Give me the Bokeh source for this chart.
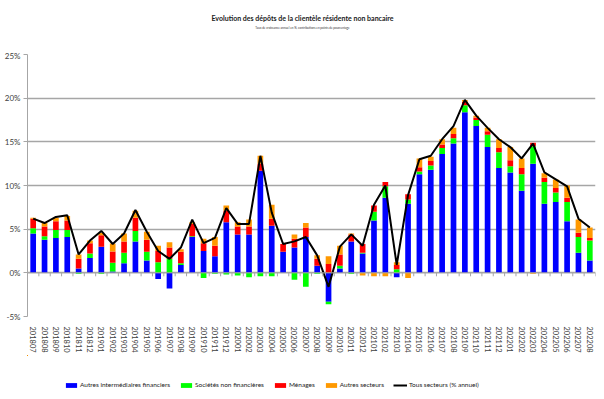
from bokeh.plotting import figure
from bokeh.layouts import column
from bokeh.models import (Range1d, FixedTicker, PrintfTickFormatter, ColumnDataSource,
                          Span, Label, Legend, LegendItem)
from bokeh.embed import file_html
from bokeh.resources import INLINE
import numpy as np

categories = ["201807", "201808", "201809", "201810", "201811", "201812",
              "201901", "201902", "201903", "201904", "201905", "201906",
              "201907", "201908", "201909", "201910", "201911", "201912",
              "202001", "202002", "202003", "202004", "202005", "202006",
              "202007", "202008", "202009", "202010", "202011", "202012",
              "202101", "202102", "202103", "202104", "202105", "202106",
              "202107", "202108", "202109", "202110", "202111", "202112",
              "202201", "202202", "202203", "202204", "202205", "202206",
              "202207", "202208"]

autres_intermediaires = [4.5, 3.8, 4.0, 4.1, 0.5, 1.7,
                         3.0, 0.15, 1.1, 3.6, 1.4, -0.7,
                         -1.8, 0.9, 4.1, 2.5, 1.9, 5.8,
                         4.4, 4.4, 11.7, 5.4, 2.4, 2.9,
                         4.1, 0.8, -3.3, 0.5, 3.6, 2.2,
                         6.0, 8.6, -0.5, 7.9, 11.3, 11.8,
                         13.6, 14.8, 18.4, 16.8, 14.4, 12.0,
                         11.5, 9.4, 12.5, 7.9, 8.1, 5.9,
                         2.3, 1.4]

societes_non_fin = [0.6, 0.4, 0.9, 0.8, -0.1, 0.5,
                    -0.1, 1.0, 1.2, 1.2, 1.0, 1.2,
                    1.6, 0.2, 0.1, -0.6, -0.1, -0.2,
                    -0.3, -0.5, -0.4, -0.4, 0.0, -0.8,
                    -1.6, -0.1, -0.3, 0.3, -0.1, 0.1,
                    1.0, 1.3, 0.4, 0.5, 0.3, 0.5,
                    0.7, 0.6, 0.8, 0.7, 1.4, 1.8,
                    0.7, 1.9, 2.0, 2.5, 1.1, 2.2,
                    1.8, 2.3]

menages = [1.1, 1.1, 1.0, 1.1, 1.1, 1.2,
           1.3, 1.3, 1.3, 1.5, 1.4, 1.3,
           1.3, 1.3, 1.4, 0.9, 1.2, 1.3,
           0.9, 0.9, 0.8, 0.8, 0.9, 1.0,
           1.1, 0.8, 1.0, 1.3, 0.8, 1.0,
           0.7, 0.5, 0.5, 0.6, 0.5, 0.5,
           0.4, 0.5, 0.4, 0.3, 0.4, 0.5,
           0.7, 0.7, 0.4, 0.5, 0.5, 0.5,
           0.5, 0.3]

autres_secteurs = [0.1, 0.4, 0.4, 0.5, 0.5, 0.3,
                   0.3, 0.9, 0.9, 0.8, 0.9, 0.6,
                   0.6, 0.3, 0.2, 0.5, 1.0, 0.6,
                   0.5, 0.8, 0.9, 1.6, 0.0, 0.5,
                   0.5, 0.4, 0.9, 1.0, 0.1, -0.3,
                   -0.4, -0.4, 0.3, -0.6, 1.0, 0.5,
                   0.6, 0.7, 0.2, 0.2, 0.4, 1.0,
                   1.5, 1.1, -0.1, 0.5, 1.0, 1.4,
                   1.5, 1.2]

tous_secteurs = [6.2, 5.7, 6.4, 6.6, 2.1, 3.7,
                 4.8, 3.3, 4.5, 7.2, 4.7, 2.5,
                 1.6, 2.9, 6.1, 3.4, 4.0, 7.4,
                 5.6, 5.6, 13.4, 6.9, 3.3, 3.6,
                 4.1, 2.0, -1.6, 3.0, 4.4, 3.1,
                 7.8, 10.0, 0.9, 8.9, 13.0, 13.4,
                 15.3, 16.8, 19.8, 18.0, 16.6, 15.3,
                 14.4, 13.1, 14.8, 11.5, 10.7, 9.9,
                 6.2, 5.2]

series_names = ["Autres intermédiaires financiers", "Sociétés non financières",
                "Ménages", "Autres secteurs"]
series_colors = ["#0000FF", "#00FF00", "#FF0000", "#FF9900"]
line_name = "Tous secteurs (% annuel)"
title_text = "Evolution des dépôts de la clientèle résidente non bancaire"
subtitle_text = "Taux de croissance annuel en %, contributions en points de pourcentage"
y_ticks = [-5, 0, 5, 10, 15, 20, 25]

FONT = "Lato"
W = 596


def blank_fig(h, xr=None, yr=None):
    f = figure(width=W, height=h, output_backend="svg", toolbar_location=None,
               x_range=xr if xr is not None else Range1d(0, 1),
               y_range=yr if yr is not None else Range1d(0, 1),
               x_axis_location=None, y_axis_location=None,
               min_border=0, min_border_left=0, min_border_right=0,
               min_border_top=0, min_border_bottom=0)
    f.outline_line_color = None
    f.xgrid.visible = False
    f.ygrid.visible = False
    f.background_fill_color = "white"
    f.border_fill_color = "white"
    return f


# ---- title block ----
TH = 50
pt = blank_fig(TH)
pt.add_layout(Label(x=275, y=TH - 17, x_units="screen", y_units="screen", text=title_text,
                    text_align="center", text_baseline="middle", text_font=FONT,
                    text_font_size="7px", text_font_style="bold", text_color="#1a1a1a"))
pt.add_layout(Label(x=275, y=TH - 27, x_units="screen", y_units="screen", text=subtitle_text,
                    text_align="center", text_baseline="middle", text_font=FONT,
                    text_font_size="3px", text_color="#333333"))

# ---- main chart ----
n = len(categories)
xc = np.arange(n) + 0.5

MH = 305
p = figure(width=W, height=MH, output_backend="svg", toolbar_location=None,
           x_range=Range1d(0, n), y_range=Range1d(-5, 25),
           min_border_left=27, min_border_right=1, min_border_top=4,
           min_border_bottom=39)
p.background_fill_color = "white"
p.border_fill_color = "white"
p.outline_line_color = None

pos_base = np.zeros(n)
neg_base = np.zeros(n)
bar_sources = []
for vals in [autres_intermediaires, societes_non_fin, menages, autres_secteurs]:
    v = np.array(vals, dtype=float)
    bottom = np.where(v >= 0, pos_base, neg_base)
    top = bottom + v
    pos_base = np.where(v >= 0, top, pos_base)
    neg_base = np.where(v < 0, top, neg_base)
    bar_sources.append(ColumnDataSource(dict(x=xc, bottom=bottom, top=top)))

for src, col in zip(bar_sources, series_colors):
    p.vbar(x="x", bottom="bottom", top="top", width=0.5, source=src,
           fill_color=col, line_color=None)

line_src = ColumnDataSource(dict(x=xc, y=tous_secteurs))
p.line("x", "y", source=line_src, line_color="black", line_width=2)

p.add_layout(Span(location=0, dimension="width", line_color="#A6A6A6", line_width=1))
edges = np.arange(n + 1)
p.segment(x0=edges, x1=edges, y0=np.zeros(n + 1), y1=np.full(n + 1, -0.4),
          line_color="#A6A6A6", line_width=1)

p.yaxis.ticker = FixedTicker(ticks=y_ticks)
p.yaxis.formatter = PrintfTickFormatter(format="%d%%")
p.yaxis.axis_line_color = "#A6A6A6"
p.yaxis.major_tick_line_color = "#A6A6A6"
p.yaxis.major_tick_out = 4
p.yaxis.major_tick_in = 0
p.yaxis.minor_tick_line_color = None
p.yaxis.major_label_text_font = FONT
p.yaxis.major_label_text_font_size = "8px"
p.yaxis.major_label_text_color = "#404040"
p.yaxis.major_label_standoff = 3

p.xaxis.ticker = FixedTicker(ticks=list(xc))
p.xaxis.major_label_overrides = {float(x): c for x, c in zip(xc, categories)}
p.xaxis.major_label_orientation = "vertical"
p.xaxis.axis_line_color = None
p.xaxis.major_tick_line_color = None
p.xaxis.minor_tick_line_color = None
p.xaxis.major_label_text_font = FONT
p.xaxis.major_label_text_font_size = "7.5px"
p.xaxis.major_label_text_color = "#404040"
p.xaxis.major_label_standoff = 4

p.xgrid.grid_line_color = None
p.ygrid.ticker = FixedTicker(ticks=y_ticks)
p.ygrid.grid_line_color = "#A6A6A6"
p.ygrid.grid_line_width = 1.3

# ---- legend block (same data, ranges set far away so only the legend shows) ----
LH = 391 - TH - MH
pl = blank_fig(LH, xr=Range1d(1000, 1001), yr=Range1d(-1001, -1000))
leg_renderers = []
for src, col in zip(bar_sources, series_colors):
    leg_renderers.append(pl.vbar(x="x", bottom="bottom", top="top", width=0.5, source=src,
                                 fill_color=col, line_color=None))
leg_line = pl.line("x", "y", source=line_src, line_color="black", line_width=2)
items = [LegendItem(label=nm, renderers=[r]) for nm, r in zip(series_names, leg_renderers)]
items.append(LegendItem(label=line_name, renderers=[leg_line]))
legend = Legend(items=items, orientation="horizontal", location=(37, 3),
                label_text_font=FONT, label_text_font_size="6.5px",
                label_text_color="#1a1a1a", glyph_width=14, glyph_height=6,
                label_standoff=2, spacing=9, padding=1, margin=0,
                border_line_color=None, background_fill_alpha=0)
pl.add_layout(legend, "center")

layout = column(pt, p, pl, spacing=0)
open("out.html", "w").write(file_html(layout, INLINE))
